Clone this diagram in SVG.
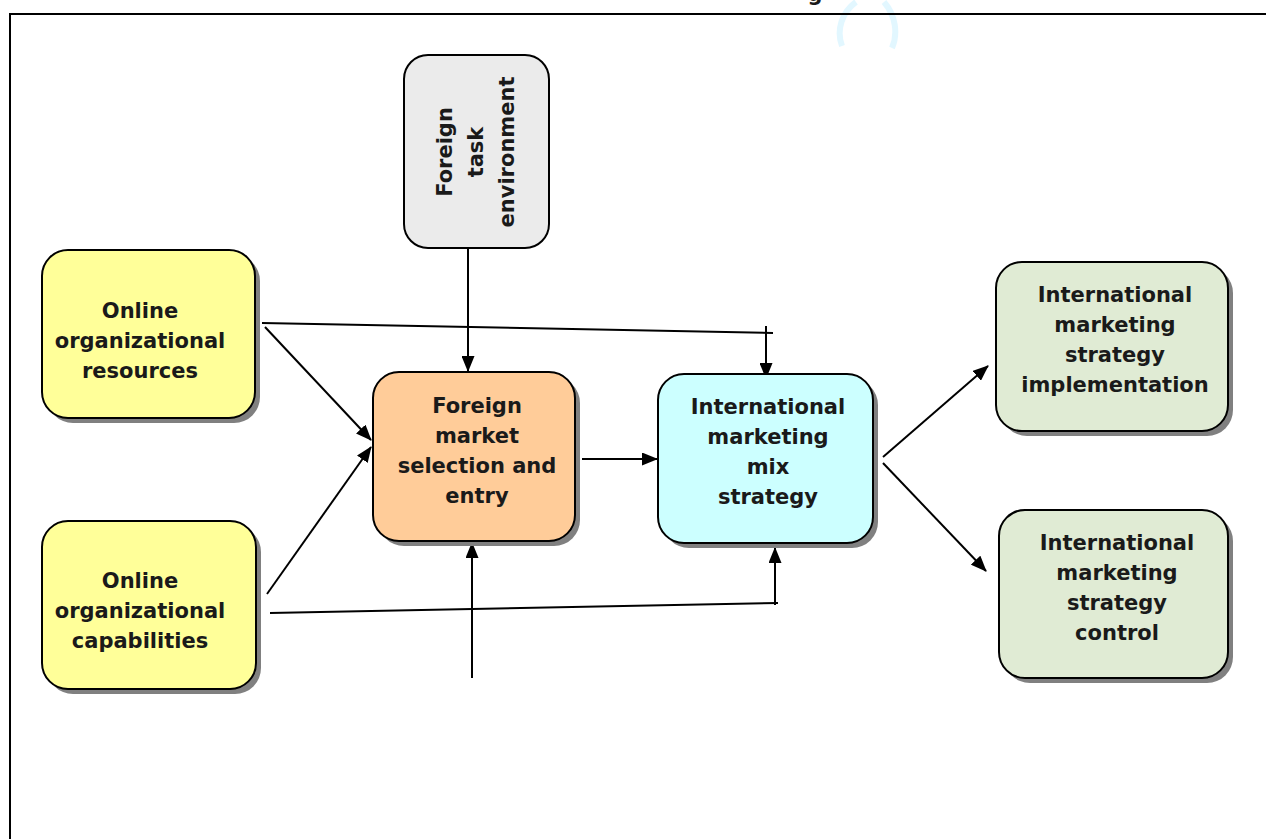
<svg xmlns="http://www.w3.org/2000/svg" width="1266" height="839" viewBox="0 0 1266 839">
<style>
.box{stroke:#000;stroke-width:2}
.sh{fill:#808080}
.t{font-family:"DejaVu Sans",Verdana,sans-serif;font-weight:bold;font-size:21px;fill:#1a1a1a;text-anchor:middle}
.c{fill:none;stroke:#000;stroke-width:2}
</style>
<defs>
<marker id="ah" markerWidth="16" markerHeight="13" refX="15" refY="6.5" orient="auto" markerUnits="userSpaceOnUse">
<path d="M0,0 L16,6.5 L0,13 Z" fill="#000"/>
</marker>
</defs>
<rect width="1266" height="839" fill="#fff"/>
<!-- page fragments -->
<text x="815" y="1" class="t">g</text>
<path d="M842,46 C836,30 842,12 856,2 M884,2 C896,16 898,34 892,48" fill="none" stroke="#e2f7ff" stroke-width="6"/>
<!-- frame -->
<path d="M10,839 L10,14 L1266,14" fill="none" stroke="#000" stroke-width="2"/>

<g id="connectors">
<line class="c" x1="468" y1="248" x2="468" y2="371" marker-end="url(#ah)"/>
<polyline class="c" points="262,323 773,333"/>
<line class="c" x1="766" y1="326" x2="766" y2="378" marker-end="url(#ah)"/>
<line class="c" x1="265" y1="327" x2="371" y2="440" marker-end="url(#ah)"/>
<line class="c" x1="267" y1="594" x2="371" y2="447" marker-end="url(#ah)"/>
<polyline class="c" points="270,613 778,603"/>
<line class="c" x1="775" y1="605" x2="775" y2="548" marker-end="url(#ah)"/>
<line class="c" x1="472" y1="678" x2="472" y2="543" marker-end="url(#ah)"/>
<line class="c" x1="582" y1="459" x2="657" y2="459" marker-end="url(#ah)"/>
<line class="c" x1="883" y1="457" x2="988" y2="366" marker-end="url(#ah)"/>
<line class="c" x1="883" y1="463" x2="986" y2="571" marker-end="url(#ah)"/>
</g>

<g id="task-env">
<rect class="box" x="404" y="55" width="145" height="193" rx="24" fill="#ebebeb"/>
<g transform="rotate(-90 476 152)">
<text class="t" x="476" y="128">Foreign</text>
<text class="t" x="476" y="159">task</text>
<text class="t" x="476" y="190">environment</text>
</g>
</g>

<g id="resources">
<rect class="sh" x="47" y="255" width="213" height="168" rx="26"/>
<rect class="box" x="42" y="250" width="213" height="168" rx="26" fill="#ffff99"/>
<text class="t" x="140" y="318">Online</text>
<text class="t" x="140" y="348">organizational</text>
<text class="t" x="140" y="378">resources</text>
</g>

<g id="capabilities">
<rect class="sh" x="47" y="526" width="214" height="168" rx="26"/>
<rect class="box" x="42" y="521" width="214" height="168" rx="26" fill="#ffff99"/>
<text class="t" x="140" y="588">Online</text>
<text class="t" x="140" y="618">organizational</text>
<text class="t" x="140" y="648">capabilities</text>
</g>

<g id="market-selection">
<rect class="sh" x="378" y="377" width="202" height="169" rx="26"/>
<rect class="box" x="373" y="372" width="202" height="169" rx="26" fill="#ffcc99"/>
<text class="t" x="477" y="413">Foreign</text>
<text class="t" x="477" y="443">market</text>
<text class="t" x="477" y="473">selection and</text>
<text class="t" x="477" y="503">entry</text>
</g>

<g id="mix-strategy">
<rect class="sh" x="663" y="379" width="215" height="169" rx="26"/>
<rect class="box" x="658" y="374" width="215" height="169" rx="26" fill="#ccffff"/>
<text class="t" x="768" y="414">International</text>
<text class="t" x="768" y="444">marketing</text>
<text class="t" x="768" y="474">mix</text>
<text class="t" x="768" y="504">strategy</text>
</g>

<g id="implementation">
<rect class="sh" x="1001" y="267" width="232" height="169" rx="26"/>
<rect class="box" x="996" y="262" width="232" height="169" rx="26" fill="#e0ebd4"/>
<text class="t" x="1115" y="302">International</text>
<text class="t" x="1115" y="332">marketing</text>
<text class="t" x="1115" y="362">strategy</text>
<text class="t" x="1115" y="392">implementation</text>
</g>

<g id="control">
<rect class="sh" x="1004" y="515" width="229" height="168" rx="26"/>
<rect class="box" x="999" y="510" width="229" height="168" rx="26" fill="#e0ebd4"/>
<text class="t" x="1117" y="550">International</text>
<text class="t" x="1117" y="580">marketing</text>
<text class="t" x="1117" y="610">strategy</text>
<text class="t" x="1117" y="640">control</text>
</g>
</svg>
